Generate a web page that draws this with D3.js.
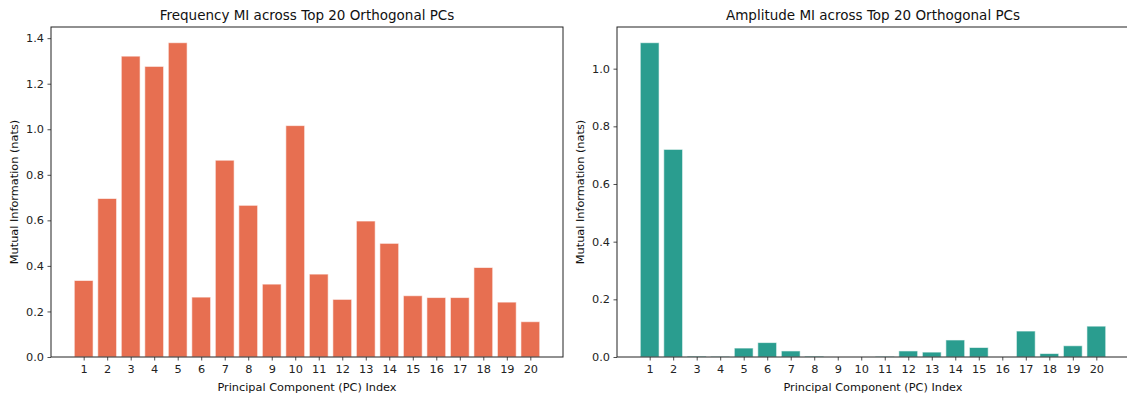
<!DOCTYPE html>
<html>
<head>
<meta charset="utf-8">
<script src="https://cdn.jsdelivr.net/npm/d3@7"></script>
<style>
body { margin: 0; background: #fff; }
svg { font-family: "DejaVu Sans", sans-serif; }
</style>
</head>
<body>
<div id="chart"></div>
<script>
var pcs = d3.range(1, 21);
var freqMI = [0.336, 0.696, 1.321, 1.276, 1.380, 0.263, 0.864, 0.666, 0.320, 1.016,
              0.364, 0.253, 0.597, 0.499, 0.269, 0.261, 0.261, 0.393, 0.241, 0.155];
var ampMI = [1.090, 0.720, 0.003, 0.002, 0.031, 0.050, 0.021, 0.003, 0.000, 0.000,
             0.002, 0.021, 0.017, 0.059, 0.033, 0.000, 0.090, 0.012, 0.039, 0.107];
var freqTicks = [0, 0.2, 0.4, 0.6, 0.8, 1.0, 1.2, 1.4];
var ampTicks = [0, 0.2, 0.4, 0.6, 0.8, 1.0];

var w = 1127, h = 394;
var svg = d3.select("#chart").append("svg").attr("width", w).attr("height", h);

function panel(left, values, ticks, color, title) {
    var top = 27, bottom = 357, width = 512;
    var ymax = d3.max(values) * 1.05;
    var x = d3.scaleLinear().domain([0.6 - 0.99, 20.4 + 0.99]).range([left, left + width]);
    var y = d3.scaleLinear().domain([0, ymax]).range([bottom, top]);
    var g = svg.append("g");

    g.selectAll("rect").data(values).enter().append("rect")
        .attr("x", function(d, i) { return x(pcs[i] - 0.4); })
        .attr("y", function(d) { return y(d); })
        .attr("width", function(d, i) { return x(pcs[i] + 0.4) - x(pcs[i] - 0.4); })
        .attr("height", function(d) { return bottom - y(d); })
        .attr("fill", color)
        .attr("stroke", "#fff")
        .attr("stroke-opacity", 0.6)
        .attr("stroke-width", 1);

    var xa = g.append("g").attr("transform", "translate(0," + bottom + ")")
        .call(d3.axisBottom(x).tickValues(pcs).tickSize(3.5).tickPadding(4.5).tickFormat(d3.format("d")));
    var ya = g.append("g").attr("transform", "translate(" + left + ",0)")
        .call(d3.axisLeft(y).tickValues(ticks).tickSize(3.5).tickPadding(3.5).tickFormat(d3.format(".1f")));
    [xa, ya].forEach(function(a) {
        a.select(".domain").remove();
        a.selectAll("text").attr("font-size", "11.3px").attr("fill", "#222").attr("font-family", "DejaVu Sans");
        a.selectAll("line").attr("stroke", "#222").attr("stroke-width", 0.8);
    });

    g.append("rect").attr("x", left).attr("y", top).attr("width", width).attr("height", bottom - top)
        .attr("fill", "none").attr("stroke", "#222").attr("stroke-width", 1);

    g.append("text").text(title)
        .attr("x", left + width / 2).attr("y", top - 7)
        .attr("text-anchor", "middle").attr("font-size", "13.5px").attr("fill", "#111");
    g.append("text").text("Principal Component (PC) Index")
        .attr("x", left + width / 2).attr("y", 391)
        .attr("text-anchor", "middle").attr("font-size", "11.3px").attr("fill", "#111");
    g.append("text").text("Mutual Information (nats)")
        .attr("transform", "translate(" + (left - 36) + "," + ((top + bottom) / 2) + ") rotate(-90)")
        .attr("text-anchor", "middle").attr("dominant-baseline", "middle")
        .attr("font-size", "11.3px").attr("fill", "#111");
}

panel(51, freqMI, freqTicks, "#e76f51", "Frequency MI across Top 20 Orthogonal PCs");
panel(617, ampMI, ampTicks, "#2a9d8f", "Amplitude MI across Top 20 Orthogonal PCs");
</script>
</body>
</html>
